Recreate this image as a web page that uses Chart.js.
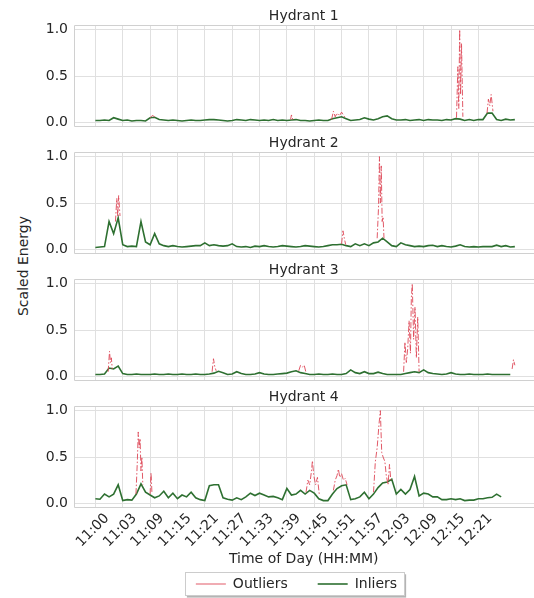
<!DOCTYPE html>
<html><head><meta charset="utf-8">
<script src="https://cdn.jsdelivr.net/npm/chart.js@4.4.1/dist/chart.umd.min.js"></script>
<style>
html,body{margin:0;padding:0;background:#fff;overflow:hidden;width:534px;height:598px;}
canvas{position:absolute;left:0;}
#ylab{position:absolute;left:23px;top:265.5px;transform:translate(-50%,-50%) rotate(-90deg);font:14px 'DejaVu Sans',sans-serif;color:#262626;white-space:nowrap;}
</style></head><body>
<div id="ylab">Scaled Energy</div>
<canvas id="c0" width="534" height="119" style="top:8px"></canvas>
<canvas id="c1" width="534" height="119" style="top:135px"></canvas>
<canvas id="c2" width="534" height="119" style="top:262px"></canvas>
<canvas id="c3" width="534" height="212" style="top:389px"></canvas>
<script>
// ---------- data ----------
const tickMinutes = [0,6,12,18,24,30,36,42,48,54,60,66,72,78,84];
const tickLabels = ['11:00','11:03','11:09','11:15','11:21','11:27','11:33','11:39','11:45','11:51','11:57','12:03','12:09','12:15','12:21'];
const yTicks = [0, 0.5, 1.0];
const hydrantNames = ['Hydrant 1','Hydrant 2','Hydrant 3','Hydrant 4'];
const minutes = Array.from({length: 93}, (_, i) => i);

const inliers1 = [0.02,0.02,0.025,0.02,0.05,0.035,0.02,0.025,0.015,0.02,0.02,0.015,0.05,0.055,0.03,0.025,
0.02,0.025,0.02,0.015,0.02,0.025,0.02,0.02,0.025,0.03,0.03,0.025,0.02,0.015,0.02,0.03,0.025,0.02,0.03,0.025,
0.02,0.025,0.02,0.03,0.02,0.025,0.02,0.025,0.03,0.02,0.02,0.015,0.02,0.025,0.02,0.02,0.04,0.05,0.06,0.04,
0.02,0.025,0.03,0.05,0.035,0.025,0.04,0.06,0.07,0.04,0.025,0.025,0.03,0.02,0.025,0.03,0.02,0.03,0.025,0.025,
0.02,0.03,0.025,0.04,0.035,0.02,0.03,0.02,0.03,0.03,0.1,0.1,0.03,0.02,0.035,0.025,0.03];
const inliers2 = [0.02,0.025,0.03,0.3,0.17,0.34,0.05,0.03,0.035,0.03,0.3,0.08,0.05,0.17,0.06,0.04,
0.03,0.04,0.03,0.025,0.03,0.035,0.04,0.04,0.07,0.04,0.05,0.04,0.035,0.04,0.06,0.03,0.025,0.03,0.02,0.035,
0.03,0.04,0.03,0.025,0.03,0.04,0.035,0.03,0.025,0.03,0.04,0.035,0.03,0.025,0.03,0.04,0.05,0.05,0.055,0.04,
0.03,0.06,0.04,0.06,0.04,0.07,0.08,0.12,0.08,0.04,0.03,0.07,0.05,0.04,0.03,0.035,0.03,0.04,0.045,0.03,
0.04,0.03,0.025,0.035,0.05,0.03,0.025,0.03,0.025,0.03,0.03,0.03,0.045,0.03,0.04,0.025,0.03];
const inliers3 = [0.02,0.02,0.025,0.09,0.08,0.11,0.03,0.02,0.02,0.025,0.02,0.02,0.02,0.025,0.02,0.02,
0.025,0.02,0.02,0.025,0.02,0.02,0.025,0.02,0.02,0.025,0.035,0.055,0.04,0.02,0.025,0.05,0.03,0.02,0.02,0.025,
0.04,0.025,0.02,0.02,0.025,0.03,0.035,0.05,0.06,0.04,0.03,0.02,0.02,0.025,0.02,0.02,0.025,0.02,0.02,0.03,
0.07,0.04,0.03,0.05,0.03,0.03,0.045,0.03,0.02,0.02,0.02,0.02,0.03,0.04,0.05,0.04,0.07,0.04,0.03,0.025,
0.02,0.025,0.04,0.025,0.02,0.02,0.025,0.02,0.02,0.02,0.025,0.02,0.02,0.02,0.02,0.02,null];
const inliers4 = [0.05,0.045,0.1,0.07,0.1,0.2,0.03,0.04,0.035,0.1,0.21,0.12,0.09,0.06,0.08,0.13,
0.06,0.11,0.05,0.09,0.07,0.12,0.06,0.04,0.03,0.19,0.2,0.2,0.06,0.045,0.035,0.06,0.04,0.07,0.11,0.085,
0.11,0.09,0.07,0.075,0.06,0.04,0.16,0.09,0.1,0.14,0.1,0.14,0.11,0.05,0.03,0.03,0.1,0.16,0.19,0.2,
0.04,0.05,0.07,0.12,0.05,0.1,0.17,0.22,0.23,0.26,0.1,0.15,0.1,0.15,0.29,0.08,0.11,0.1,0.07,0.07,
0.04,0.04,0.05,0.04,0.05,0.03,0.035,0.035,0.05,0.05,0.06,0.065,0.1,0.07,null,null,null];

const outlierTimes1 = [12,12.5,13,13.1, 42.8,43,43.3,43.4, 51.8,52.2,52.6,53,53.5,54,54.5,55,55.1,
79.2,79.5,79.7,79.9,80.1,80.3,80.6,80.7, 85.9,86.2,86.5,86.8,87.2];
const outlierValues1 = [0.05,0.075,0.06,null, 0.03,0.08,0.03,null, 0.03,0.12,0.06,0.1,0.07,0.11,0.07,0.04,null,
0.05,0.6,0.15,1.0,0.3,0.85,0.06,null, 0.1,0.25,0.18,0.3,0.12];
const outlierTimes2 = [4.4,4.7,4.9,5.1,5.4,5.5, 54.0,54.3,54.6,54.9,55.0, 61.8,62.1,62.3,62.5,62.7,62.9,63.1,63.3];
const outlierValues2 = [0.3,0.55,0.35,0.58,0.36,null, 0.06,0.2,0.12,0.05,null, 0.12,0.45,1.0,0.5,0.9,0.3,0.35,0.12];
const outlierTimes3 = [2.8,3.1,3.3,3.5,3.7,3.8, 25.6,25.9,26.2,26.5,26.6, 44.6,45.0,45.4,45.8,46.2,46.3,
67.6,67.9,68.2,68.5,68.8,69.1,69.3,69.5,69.8,70.1,70.4,70.7,71.0,71.1, 91.4,91.7,92.0];
const outlierValues3 = [0.05,0.27,0.15,0.2,0.08,null, 0.05,0.19,0.1,0.06,null, 0.06,0.12,0.1,0.12,0.04,null,
0.05,0.37,0.15,0.3,0.6,0.25,0.85,1.0,0.4,0.75,0.2,0.64,0.05,null, 0.08,0.18,0.12];
const outlierTimes4 = [8.9,9.2,9.4,9.6,9.8,10.0,10.2,10.4,10.5, 12.0,12.2,12.4,12.5,
46.2,46.6,47.0,47.4,47.6,47.9,48.3,48.7,49.1,49.2, 52.2,52.6,53.0,53.3,53.6,54.0,54.4,54.8,55.2,55.3,
61.0,61.4,61.8,62.2,62.5,62.8,63.1,63.5,63.8,64.2,64.5,64.8];
const outlierValues4 = [0.1,0.45,0.77,0.6,0.7,0.35,0.5,0.2,null, 0.1,0.33,0.12,null,
0.12,0.25,0.2,0.35,0.46,0.3,0.2,0.28,0.1,null, 0.14,0.25,0.3,0.37,0.28,0.32,0.25,0.27,0.2,null,
0.12,0.45,0.6,0.85,1.0,0.55,0.5,0.45,0.3,0.2,0.42,0.25];

const inliers = [inliers1, inliers2, inliers3, inliers4];
const outlierTimes = [outlierTimes1, outlierTimes2, outlierTimes3, outlierTimes4];
const outlierValues = [outlierValues1, outlierValues2, outlierValues3, outlierValues4];

// ---------- style ----------
const GRID = '#e0e0e0', FRAME = '#d0d0d0', TXT = '#262626';
const RED = 'rgba(222,72,88,0.9)', GREEN = '#2e7031';
Chart.defaults.font.family = "'DejaVu Sans', sans-serif";
Chart.defaults.font.size = 14;
Chart.defaults.color = TXT;

const framePlugin = {
  id: 'frame',
  beforeDatasetsDraw(chart) {
    const a = chart.chartArea, c = chart.ctx;
    c.save();
    c.strokeStyle = FRAME; c.lineWidth = 1;
    const l = Math.round(a.left) + 0.5, t = Math.round(a.top) + 0.5, b = Math.round(a.bottom) - 0.5;
    c.beginPath();
    c.moveTo(chart.width, t); c.lineTo(l, t); c.lineTo(l, b); c.lineTo(chart.width, b);
    c.stroke();
    c.restore();
  }
};
// shift the legend block so it is centred where the reference places it
const legendShiftPlugin = {
  id: 'legendShift',
  afterLayout(chart) {
    const lg = chart.legend;
    if (!lg) return;
    lg.left = 59;
    lg.width = lg.right - lg.left;
  }
};
const legendFramePlugin = {
  id: 'legendFrame',
  beforeDraw(chart) {
    const lg = chart.legend;
    if (!lg || !lg.legendHitBoxes || !lg.legendHitBoxes.length) return;
    const hb = lg.legendHitBoxes;
    const last = hb[hb.length - 1];
    const cy = hb[0].top + hb[0].height / 2;
    const x0 = hb[0].left - 11, x1 = last.left + last.width + 7;
    const y0 = cy - 11.7, y1 = cy + 11.6;
    const c = chart.ctx;
    c.save();
    c.fillStyle = '#b4b4b4';
    c.fillRect(x0 + 2, y0 + 2, x1 - x0, y1 - y0);
    c.fillStyle = '#ffffff';
    c.fillRect(x0, y0, x1 - x0, y1 - y0);
    c.strokeStyle = '#cccccc'; c.lineWidth = 1;
    c.strokeRect(Math.round(x0) + 0.5, Math.round(y0) + 0.5, Math.round(x1 - x0), Math.round(y1 - y0));
    c.restore();
  }
};

function makeChart(idx) {
  const isLast = idx === 3;
  const ctx = document.getElementById('c' + idx);
  return new Chart(ctx, {
    type: 'line',
    data: {
      labels: minutes,
      datasets: [
        { label: 'Outliers',
          data: outlierTimes[idx].map((t, i) => ({x: t, y: outlierValues[idx][i]})),
          borderColor: RED, backgroundColor: RED, borderWidth: 1, borderDash: [6, 2, 1.5, 2],
          pointRadius: 0, fill: false, spanGaps: false, tension: 0 },
        { label: 'Inliers', data: inliers[idx],
          borderColor: GREEN, backgroundColor: GREEN, borderWidth: 1.6,
          pointRadius: 0, fill: false, spanGaps: false, tension: 0 }
      ]
    },
    options: {
      responsive: false, animation: false, devicePixelRatio: 1, events: [],
      layout: { padding: 0 },
      plugins: {
        tooltip: { enabled: false },
        title: { display: true, text: hydrantNames[idx], position: 'top', fullSize: false,
                 padding: { top: 0.2, bottom: 0 }, color: TXT, font: { size: 14, weight: 'normal' } },
        legend: {
          display: isLast, position: 'bottom', fullSize: true,
          labels: { usePointStyle: true, pointStyle: 'line', pointStyleWidth: 30, padding: 30,
                    color: TXT, font: { size: 14 } }
        }
      },
      scales: {
        x: {
          type: 'linear', min: -4.8, max: 96.2,
          afterBuildTicks: s => { s.ticks = tickMinutes.map(v => ({value: v})); },
          afterFit: s => { s.height = isLast ? 39 : 0; s.paddingLeft = 0; s.paddingRight = 0; },
          grid: { color: GRID, drawTicks: false, lineWidth: 1 },
          border: { display: false },
          ticks: { display: isLast, autoSkip: false, minRotation: 45, maxRotation: 45,
                   labelOffset: 11.7, padding: 2.1, color: TXT, font: { size: 14 },
                   callback: (v, i) => tickLabels[i] },
          title: { display: isLast, text: 'Time of Day (HH:MM)', color: TXT, font: { size: 14 },
                   padding: { top: 0, bottom: -21 } }
        },
        y: {
          min: -0.05, max: 1.05,
          afterBuildTicks: s => { s.ticks = yTicks.map(v => ({value: v})); },
          afterFit: s => { s.width = 73.5; s.paddingTop = 0; s.paddingBottom = 0; },
          grid: { color: GRID, drawTicks: false, lineWidth: 1 },
          border: { display: false },
          ticks: { padding: 5.5, color: TXT, font: { size: 14 }, callback: v => v.toFixed(1) }
        }
      }
    },
    plugins: isLast ? [framePlugin, legendShiftPlugin, legendFramePlugin] : [framePlugin]
  });
}
[0, 1, 2, 3].forEach(makeChart);
</script>
</body></html>
